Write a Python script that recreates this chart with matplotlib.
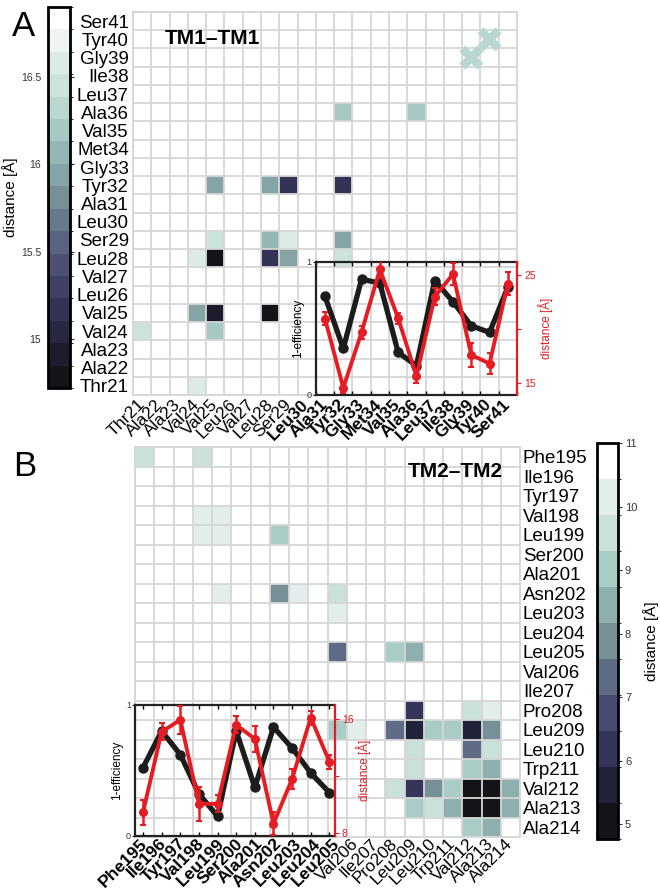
import numpy as np
import matplotlib
matplotlib.use('Agg')
import matplotlib.pyplot as plt
from matplotlib.colors import ListedColormap, LinearSegmentedColormap, BoundaryNorm
from matplotlib.cm import ScalarMappable

plt.rcParams['font.family'] = ['Liberation Sans', 'DejaVu Sans']

# residues
res_a = ['Thr21', 'Ala22', 'Ala23', 'Val24', 'Val25', 'Leu26', 'Val27', 'Leu28', 'Ser29', 'Leu30',
         'Ala31', 'Tyr32', 'Gly33', 'Met34', 'Val35', 'Ala36', 'Leu37', 'Ile38', 'Gly39', 'Tyr40', 'Ser41']
res_b = ['Phe195', 'Ile196', 'Tyr197', 'Val198', 'Leu199', 'Ser200', 'Ala201', 'Asn202', 'Leu203', 'Leu204',
         'Leu205', 'Val206', 'Ile207', 'Pro208', 'Leu209', 'Leu210', 'Trp211', 'Val212', 'Ala213', 'Ala214']
bold_a = res_a[9:]
bold_b = res_b[:11]

# TM1-TM1 contacts (row, column, distance in A)
rows_a = ['Tyr32', 'Tyr32', 'Tyr32', 'Tyr32', 'Ser29', 'Ser29', 'Ser29', 'Ser29', 'Ala36', 'Ala36',
          'Leu28', 'Leu28', 'Leu28', 'Leu28', 'Leu28', 'Val25', 'Val25', 'Val25', 'Val24', 'Val24', 'Thr21']
cols_a = ['Val25', 'Leu28', 'Ser29', 'Tyr32', 'Val25', 'Leu28', 'Ser29', 'Tyr32', 'Tyr32', 'Ala36',
          'Val24', 'Val25', 'Leu28', 'Ser29', 'Tyr32', 'Val24', 'Val25', 'Leu28', 'Thr21', 'Val25', 'Val24']
dist_a = [15.88, 15.88, 15.16, 15.16, 16.46, 16.03, 16.57, 15.92, 16.25, 16.25,
          16.57, 14.75, 15.22, 15.94, 16.49, 15.98, 14.96, 14.83, 16.51, 16.16, 16.6]
cross_a = ['Gly39', 'Tyr40']
cross_a_dist = [16.33, 16.33]

# TM2-TM2 contacts
rows_b = ['Phe195', 'Phe195', 'Val198', 'Val198', 'Leu199', 'Leu199', 'Leu199',
          'Asn202', 'Asn202', 'Asn202', 'Asn202', 'Leu203',
          'Leu205', 'Leu205', 'Leu205', 'Leu205', 'Val206',
          'Pro208', 'Pro208', 'Pro208', 'Pro208',
          'Leu209', 'Leu209', 'Leu209', 'Leu209', 'Leu209', 'Leu209', 'Leu209', 'Leu209',
          'Leu210', 'Leu210', 'Leu210', 'Trp211', 'Trp211', 'Trp211',
          'Val212', 'Val212', 'Val212', 'Val212', 'Val212', 'Val212', 'Val212',
          'Ala213', 'Ala213', 'Ala213', 'Ala213', 'Ala213', 'Ala213', 'Ala214', 'Ala214']
cols_b = ['Phe195', 'Val198', 'Val198', 'Leu199', 'Val198', 'Leu199', 'Asn202',
          'Leu199', 'Asn202', 'Leu203', 'Leu205', 'Leu205',
          'Leu205', 'Val206', 'Pro208', 'Leu209', 'Leu209',
          'Pro208', 'Leu209', 'Val212', 'Ala213',
          'Leu205', 'Val206', 'Pro208', 'Leu209', 'Leu210', 'Trp211', 'Val212', 'Ala213',
          'Leu209', 'Val212', 'Ala213', 'Leu209', 'Val212', 'Ala213',
          'Pro208', 'Leu209', 'Leu210', 'Trp211', 'Val212', 'Ala213', 'Ala214',
          'Leu209', 'Leu210', 'Trp211', 'Val212', 'Ala213', 'Ala214', 'Val212', 'Ala213']
dist_b = [9.32, 9.44, 10.19, 10.19, 10.19, 10.19, 8.8,
          10.19, 8.0, 10.19, 9.32, 10.19,
          7.5, 10.7, 8.8, 8.3, 10.7,
          10.7, 6.3, 9.32, 10.1,
          9.26, 10.3, 7.4, 5.5, 8.9, 8.9, 5.7, 7.7,
          9.32, 7.6, 9.32, 9.32, 9.0, 8.3,
          9.32, 6.2, 7.7, 8.94, 4.83, 4.8, 8.4,
          8.94, 9.32, 8.7, 4.8, 5.14, 8.4, 9.13, 8.38]

# insets: 1-efficiency and distance
ins_a_res = res_a[10:]
ins_a_eff = [0.74, 0.35, 0.87, 0.84, 0.32, 0.22, 0.86, 0.70, 0.52, 0.47, 0.81]
ins_a_dist = [20.95, 14.56, 19.7, 25.5, 21.0, 15.65, 22.97, 25.07, 17.6, 16.8, 24.2]
ins_a_err = [0.6, 0.5, 0.6, 0.8, 0.5, 0.6, 0.8, 1.0, 1.1, 1.0, 1.1]

ins_b_res = res_b[:11]
ins_b_eff = [0.52, 0.80, 0.62, 0.32, 0.15, 0.80, 0.37, 0.83, 0.67, 0.48, 0.33]
ins_b_dist = [9.45, 15.1, 15.95, 10.05, 10.05, 15.6, 14.6, 8.65, 11.8, 16.1, 13.0]
ins_b_err = [0.9, 0.6, 1.0, 1.2, 0.6, 0.6, 0.9, 0.8, 0.7, 0.5, 0.5]

base = ['#131318', '#222238', '#35355a', '#4a4b70', '#5f6c85', '#778f97',
        '#8eb0ad', '#a9cdc6', '#c9e0db', '#e3eeec', '#ffffff']
cmap_b = ListedColormap(base)
norm_b = BoundaryNorm(np.linspace(4.77, 11, 12), 11)
cmap_a = LinearSegmentedColormap.from_list('tm', base).resampled(17)
norm_a = BoundaryNorm(np.linspace(14.72, 16.9, 18), 17)

RED = '#e31d23'
GRID = '#d6d6d6'

fig = plt.figure(figsize=(6.6, 8.94), dpi=100)
W, H = 660, 894
ax_a = fig.add_axes([133 / W, 1 - 395 / H, 384 / W, 383 / H])
ax_b = fig.add_axes([135 / W, 1 - 837 / H, 385 / W, 390 / H])
cax_a = fig.add_axes([48 / W, 1 - 388 / H, 22 / W, 381 / H])
cax_b = fig.add_axes([597 / W, 1 - 839 / H, 21 / W, 396 / H])


def draw_map(ax, res, rows, cols, vals, cmap, norm, bold, flip):
    n = len(res)
    m = np.full((n, n), np.nan)
    for r, c, v in zip(rows, cols, vals):
        m[res.index(r), res.index(c)] = v
    ax.pcolormesh(np.arange(n + 1), np.arange(n + 1), np.ma.masked_invalid(m), cmap=cmap, norm=norm)
    ax.set_xlim(0, n)
    if flip:
        ax.set_ylim(n, 0)
    else:
        ax.set_ylim(0, n)
    ax.set_xticks(np.arange(n) + 0.5)
    ax.set_xticklabels(res, rotation=45, ha='right', va='center', rotation_mode='anchor', fontsize=12.5)
    ax.set_yticks(np.arange(n) + 0.5)
    ax.set_yticklabels(res, fontsize=13.5)
    ax.set_xticks(np.arange(n + 1), minor=True)
    ax.set_yticks(np.arange(n + 1), minor=True)
    ax.grid(which='minor', color=GRID, lw=1.3)
    ax.tick_params(which='both', length=0)
    ax.tick_params(axis='x', pad=5)
    ax.tick_params(axis='y', pad=3)
    for s in ax.spines.values():
        s.set_color(GRID)
        s.set_linewidth(1.3)
    for lbl in ax.get_xticklabels():
        if lbl.get_text() in bold:
            lbl.set_fontweight('bold')


draw_map(ax_a, res_a, rows_a, cols_a, dist_a, cmap_a, norm_a, bold_a, False)
draw_map(ax_b, res_b, rows_b, cols_b, dist_b, cmap_b, norm_b, bold_b, True)
ax_b.yaxis.tick_right()
ax_b.tick_params(axis='y', pad=2)
ax_b.tick_params(axis='x', pad=3)

xc = [res_a.index(r) + 0.5 for r in cross_a]
ax_a.scatter(xc, xc, c=cross_a_dist, cmap=cmap_a, norm=norm_a, marker='X', s=300, lw=0, zorder=3)

ax_a.text(0.083, 0.932, 'TM1–TM1', transform=ax_a.transAxes, fontsize=15, fontweight='bold', va='center')
ax_b.text(0.956, 0.936, 'TM2–TM2', transform=ax_b.transAxes, fontsize=15, fontweight='bold',
          va='center', ha='right')


def draw_inset(ins, x, eff, dist, err, xlim, dlim, dticks, dlabels, xt):
    ins.set_facecolor('none')
    ins.plot(x, eff, color='#1c1c1c', lw=3.8, marker='o', ms=6.5, zorder=3)
    ins.set_xlim(*xlim)
    ins.set_ylim(0, 1)
    ins.set_xticks(xt)
    ins.set_xticklabels([])
    ins.set_yticks([0, 1])
    ins.set_yticklabels(['0', '1'])
    ins.tick_params(axis='x', direction='in', top=True, length=3, width=1)
    ins.tick_params(axis='y', length=2, labelsize=6.5, pad=1, colors='#333333')
    ins.set_ylabel('1-efficiency', fontsize=8.5, labelpad=2)
    for k in ['left', 'bottom', 'top']:
        ins.spines[k].set_color('#222222')
        ins.spines[k].set_linewidth(1.6)
    ins.spines['right'].set_visible(False)
    tw = ins.twinx()
    tw.errorbar(x, dist, yerr=err, color=RED, lw=2.8, marker='o', ms=5.5, capsize=2,
                elinewidth=1.8, capthick=1.5)
    tw.set_ylim(*dlim)
    tw.set_yticks(dticks)
    tw.set_yticklabels(dlabels)
    tw.tick_params(axis='y', colors=RED, labelsize=7.5, length=3, pad=2)
    tw.set_ylabel('distance [Å]', color=RED, fontsize=8.5, labelpad=2)
    for k in ['left', 'bottom', 'top']:
        tw.spines[k].set_visible(False)
    tw.spines['right'].set_color(RED)
    tw.spines['right'].set_linewidth(1.6)


ins_a = ax_a.inset_axes([10 / 21, 0, 11 / 21, 7.3 / 21])
xa = [res_a.index(r) + 0.5 for r in ins_a_res]
draw_inset(ins_a, xa, ins_a_eff, ins_a_dist, ins_a_err, (10, 21), (13.9, 26.2),
           [15, 20, 25], ['15', '', '25'], np.arange(10, 22))

ins_b = ax_b.inset_axes([0, 0.003, 200 / 385, 131 / 390])
xb = [ins_b_res.index(r) for r in ins_b_res]
draw_inset(ins_b, xb, ins_b_eff, ins_b_dist, ins_b_err, (-0.43, 10.3), (7.8, 17.0),
           [8, 12, 16], ['8', '', '16'], xb)

cb_a = fig.colorbar(ScalarMappable(norm=norm_a, cmap=cmap_a), cax=cax_a, ticks=[15, 15.5, 16, 16.5],
                    format='%g')
cb_a.outline.set_linewidth(2)
cax_a.tick_params(left=False, right=True, labelleft=True, labelright=False, labelsize=7.5,
                  length=3, pad=2, colors='#333333')
cax_a.yaxis.set_label_position('left')
cax_a.set_ylabel('distance [Å]', fontsize=11, labelpad=2)

cb_b = fig.colorbar(ScalarMappable(norm=norm_b, cmap=cmap_b), cax=cax_b, ticks=range(5, 12), format='%g')
cb_b.outline.set_linewidth(2)
cax_b.tick_params(labelsize=8, length=3, pad=2, colors='#333333')
cax_b.set_ylabel('distance [Å]', fontsize=11, labelpad=4)

fig.text(12 / W, 1 - 26 / H, 'A', fontsize=25, va='center')
fig.text(13 / W, 1 - 466 / H, 'B', fontsize=25, va='center')

fig.savefig('out.png', dpi=100)
